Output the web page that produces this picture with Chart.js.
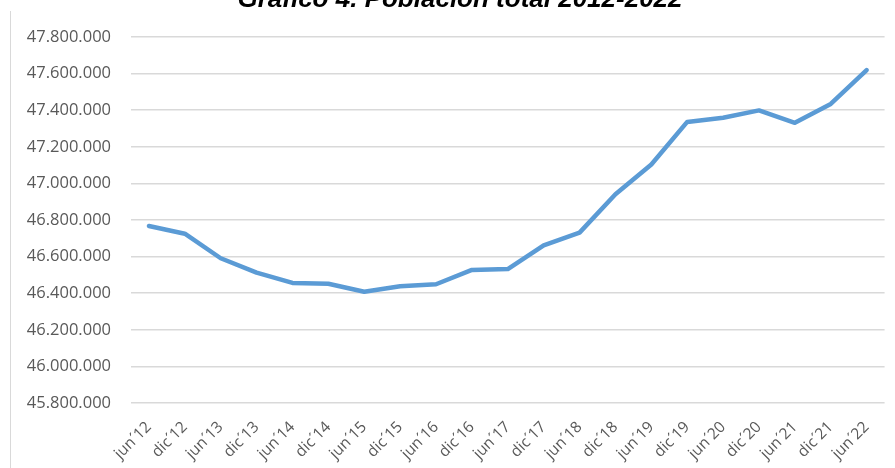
<!DOCTYPE html>
<html>
<head>
<meta charset="utf-8">
<script src="https://cdn.jsdelivr.net/npm/chart.js@4/dist/chart.umd.min.js"></script>
<style>
  html, body { margin: 0; padding: 0; background: #ffffff; }
  #wrap { position: relative; width: 895px; height: 468px; overflow: hidden; }
  #frame { position: absolute; left: 10px; top: 11px; bottom: 0; width: 0; border-left: 1.5px solid #d9d9d9; }
  canvas { position: absolute; left: 0; top: 0; }
</style>
</head>
<body>
<div id="wrap">
  <div id="frame"></div>
  <canvas id="chart" width="895" height="468"></canvas>
</div>
<script>
// Semesters (June / December) 2012-2022
const periods = [
  "jun´12", "dic´12", "jun´13", "dic´13", "jun´14", "dic´14", "jun´15",
  "dic´15", "jun´16", "dic´16", "jun´17", "dic´17", "jun´18", "dic´18",
  "jun´19", "dic´19", "jun´20", "dic´20", "jun´21", "dic´21", "jun´22"
];

// Total population
const population = [
  46767000, 46725000, 46591000, 46512000, 46456000, 46452000, 46408000,
  46438000, 46449000, 46527000, 46532000, 46662000, 46731000, 46941000,
  47103000, 47336000, 47359000, 47399000, 47331000, 47434000, 47619000
];

// Y axis range and step
const yMin = 45800000;
const yMax = 47800000;
const yStep = 200000;

const chartTitle = "Gráfico 4. Población total 2012-2022";

const fmt = v => Math.round(v).toString().replace(/\B(?=(\d{3})+(?!\d))/g, ".");

const titlePlugin = {
  id: "topTitle",
  afterDraw(chart) {
    const ctx = chart.ctx;
    ctx.save();
    ctx.font = "italic bold 26px 'Liberation Sans', Arial, sans-serif";
    ctx.fillStyle = "#000000";
    ctx.textAlign = "center";
    ctx.textBaseline = "alphabetic";
    ctx.fillText(chartTitle, 460, 7);
    ctx.restore();
  }
};

new Chart(document.getElementById("chart"), {
  type: "line",
  data: {
    labels: periods,
    datasets: [{
      data: population,
      borderColor: "#5b9bd5",
      borderWidth: 4.5,
      borderCapStyle: "round",
      borderJoinStyle: "round",
      pointRadius: 0,
      pointHoverRadius: 0,
      tension: 0,
      fill: false
    }]
  },
  options: {
    responsive: false,
    animation: false,
    layout: { padding: { top: 37, right: 9, left: 0, bottom: 0 } },
    plugins: {
      legend: { display: false },
      tooltip: { enabled: false },
      title: { display: false }
    },
    scales: {
      x: {
        offset: true,
        grid: { display: false, drawTicks: false },
        border: { display: false },
        ticks: {
          autoSkip: false,
          minRotation: 45,
          maxRotation: 45,
          padding: 15,
          color: "#595959",
          font: { family: "'Open Sans', sans-serif", size: 15.5 }
        },
        afterFit(scale) { scale.height = 65; }
      },
      y: {
        min: yMin,
        max: yMax,
        grid: { color: "#d9d9d9", lineWidth: 1.5, drawTicks: false },
        border: { display: false },
        ticks: {
          stepSize: yStep,
          padding: 20,
          color: "#595959",
          font: { family: "'Open Sans', sans-serif", size: 16.5 },
          callback: v => fmt(v)
        },
        afterFit(scale) { scale.width = 131; }
      }
    }
  },
  plugins: [titlePlugin]
});
</script>
</body>
</html>
